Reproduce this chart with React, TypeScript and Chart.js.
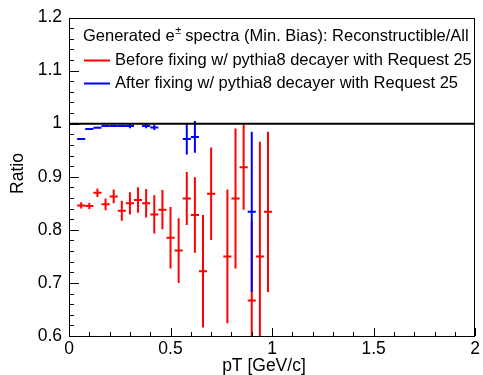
import React, { useEffect, useRef } from 'react';
import { Chart, registerables } from 'chart.js';

Chart.register(...registerables);

// Bin half-width (x error) in GeV/c
const binHalfWidth = 0.02;

// Before fixing (red)
const redX = [0.06, 0.10, 0.14, 0.18, 0.22, 0.26, 0.30, 0.34, 0.38, 0.42, 0.46, 0.50, 0.54, 0.58, 0.62, 0.66, 0.70, 0.78, 0.82, 0.86, 0.90, 0.94, 0.98];
const redY = [0.846, 0.845, 0.870, 0.848, 0.863, 0.836, 0.850, 0.856, 0.850, 0.829, 0.838, 0.785, 0.761, 0.859, 0.828, 0.722, 0.868, 0.750, 0.859, 0.918, 0.667, 0.750, 0.834];
const redErr = [0.006, 0.006, 0.008, 0.011, 0.013, 0.019, 0.021, 0.024, 0.027, 0.036, 0.037, 0.058, 0.061, 0.050, 0.071, 0.106, 0.087, 0.126, 0.132, 0.080, 0.150, 0.216, 0.151];

// After fixing (blue)
const blueX = [0.06, 0.10, 0.14, 0.18, 0.22, 0.26, 0.30, 0.38, 0.42, 0.58, 0.62, 0.90];
const blueY = [0.971, 0.990, 0.9925, 0.9955, 0.9955, 0.9955, 0.9955, 0.9955, 0.993, 0.971, 0.975, 0.834];
const blueErr = [0.001, 0.001, 0.002, 0.002, 0.002, 0.002, 0.004, 0.004, 0.005, 0.029, 0.030, 0.151];

// Reference line at ratio = 1
const refX = [0, 2];
const refY = [1, 1];

const legendHeader = ['Generated e', '\u00B1', ' spectra (Min. Bias): Reconstructible/All'];
const redLabel = 'Before fixing w/ pythia8 decayer with Request 25';
const blueLabel = 'After fixing w/ pythia8 decayer with Request 25';
const xTitle = 'pT [GeV/c]';
const yTitle = 'Ratio';

const FONT = '"Liberation Sans", Arial, Helvetica, sans-serif';

export default function App() {
  const ref = useRef<HTMLCanvasElement>(null);

  useEffect(() => {
    if (!ref.current) return;

    const errorBars = {
      id: 'errorBars',
      beforeDatasetsDraw(chart: any) {
        const { ctx, chartArea: a, scales } = chart;
        const xs = scales.x, ys = scales.y;
        ctx.save();
        ctx.beginPath();
        ctx.rect(a.left, a.top, a.right - a.left, a.bottom - a.top);
        ctx.clip();
        chart.data.datasets.forEach((ds: any) => {
          if (!ds.yErr) return;
          ctx.strokeStyle = ds.borderColor;
          ctx.lineWidth = 2;
          ds.data.forEach((p: any, i: number) => {
            const px = xs.getPixelForValue(p.x);
            const py = ys.getPixelForValue(p.y);
            const x0 = xs.getPixelForValue(p.x - ds.xErr);
            const x1 = xs.getPixelForValue(p.x + ds.xErr);
            const y0 = ys.getPixelForValue(p.y - ds.yErr[i]);
            const y1 = ys.getPixelForValue(p.y + ds.yErr[i]);
            ctx.beginPath();
            ctx.moveTo(x0, py);
            ctx.lineTo(x1, py);
            ctx.moveTo(px, y0);
            ctx.lineTo(px, y1);
            ctx.stroke();
          });
        });
        ctx.restore();
      },
    };

    const frame = {
      id: 'frame',
      afterDraw(chart: any) {
        const { ctx, chartArea: a, scales } = chart;
        const xs = scales.x, ys = scales.y;
        ctx.save();
        ctx.strokeStyle = '#000';
        ctx.lineWidth = 1;
        ctx.strokeRect(Math.round(a.left) + 0.5, Math.round(a.top) + 0.5, Math.round(a.right - a.left) - 1, Math.round(a.bottom - a.top) - 1);
        ctx.beginPath();
        // y ticks: minor every 0.02, major every 0.1
        const ny = Math.round((ys.max - ys.min) / 0.02);
        for (let k = 0; k <= ny; k++) {
          const v = ys.min + k * 0.02;
          const py = Math.round(ys.getPixelForValue(v)) + 0.5;
          const len = k % 5 === 0 ? 10 : 5;
          ctx.moveTo(a.left, py);
          ctx.lineTo(a.left + len, py);
        }
        // x ticks: minor every 0.1, major every 0.5
        const nx = Math.round((xs.max - xs.min) / 0.1);
        for (let k = 0; k <= nx; k++) {
          const v = xs.min + k * 0.1;
          const px = Math.round(xs.getPixelForValue(v)) + 0.5;
          const len = k % 5 === 0 ? 8 : 4;
          ctx.moveTo(px, a.bottom);
          ctx.lineTo(px, a.bottom - len);
        }
        ctx.stroke();

        // axis titles
        ctx.fillStyle = '#000';
        ctx.font = `17.5px ${FONT}`;
        ctx.textAlign = 'center';
        ctx.textBaseline = 'middle';
        ctx.fillText(xTitle, a.left + (a.right - a.left) * 0.48, a.bottom + 30);
        ctx.save();
        ctx.translate(18, a.top + (a.bottom - a.top) * 0.49);
        ctx.rotate(-Math.PI / 2);
        ctx.fillText(yTitle, 0, 0);
        ctx.restore();

        // legend
        ctx.textAlign = 'left';
        ctx.textBaseline = 'middle';
        ctx.font = `16.5px ${FONT}`;
        let hx = a.left + 14;
        const hy = a.top + 19;
        ctx.fillText(legendHeader[0], hx, hy);
        hx += ctx.measureText(legendHeader[0]).width;
        ctx.font = `11px ${FONT}`;
        ctx.fillText(legendHeader[1], hx + 0.5, hy - 6);
        hx += ctx.measureText(legendHeader[1]).width;
        ctx.font = `16.5px ${FONT}`;
        ctx.fillText(legendHeader[2], hx, hy);

        const rows = [
          { label: redLabel, color: chart.data.datasets[0].borderColor, y: a.top + 43 },
          { label: blueLabel, color: chart.data.datasets[1].borderColor, y: a.top + 66 },
        ];
        rows.forEach((r) => {
          ctx.strokeStyle = r.color;
          ctx.lineWidth = 2;
          ctx.beginPath();
          ctx.moveTo(a.left + 15, r.y);
          ctx.lineTo(a.left + 41, r.y);
          ctx.stroke();
          ctx.fillStyle = '#000';
          ctx.fillText(r.label, a.left + 46, r.y);
        });
        ctx.restore();
      },
    };

    const tickFont = { family: FONT, size: 17.5 };
    const fmt = (v: any) => String(Number(Number(v).toFixed(2)));

    const chart = new Chart(ref.current, {
      type: 'scatter',
      data: {
        datasets: [
          {
            label: redLabel,
            data: redX.map((x, i) => ({ x, y: redY[i] })),
            borderColor: '#ff0000',
            backgroundColor: '#ff0000',
            pointRadius: 0,
            showLine: false,
            yErr: redErr,
            xErr: binHalfWidth,
          } as any,
          {
            label: blueLabel,
            data: blueX.map((x, i) => ({ x, y: blueY[i] })),
            borderColor: '#0000ff',
            backgroundColor: '#0000ff',
            pointRadius: 0,
            showLine: false,
            yErr: blueErr,
            xErr: binHalfWidth,
          } as any,
          {
            label: 'ref',
            data: refX.map((x, i) => ({ x, y: refY[i] })),
            borderColor: '#000000',
            borderWidth: 2,
            pointRadius: 0,
            showLine: true,
          } as any,
        ],
      },
      options: {
        responsive: false,
        animation: false,
        devicePixelRatio: 1,
        events: [],
        layout: { padding: { top: 15, right: 6, left: 0, bottom: 0 } },
        plugins: { legend: { display: false }, tooltip: { enabled: false } },
        scales: {
          x: {
            type: 'linear',
            min: 0,
            max: 2,
            grid: { display: false, drawTicks: false },
            border: { display: false },
            ticks: { stepSize: 0.5, font: tickFont, color: '#000', padding: 3, maxRotation: 0, autoSkip: false, callback: fmt },
            afterFit: (s: any) => { s.height = 39; },
          },
          y: {
            type: 'linear',
            min: 0.6,
            max: 1.2,
            grid: { display: false, drawTicks: false },
            border: { display: false },
            ticks: { stepSize: 0.1, font: tickFont, color: '#000', padding: 7, autoSkip: false, callback: fmt },
            afterFit: (s: any) => { s.width = 69; },
          },
        },
      } as any,
      plugins: [errorBars, frame],
    });

    return () => chart.destroy();
  }, []);

  return (
    <div style={{ position: 'absolute', left: 0, top: 0, width: 483, height: 375, background: '#fff' }}>
      <canvas ref={ref} width={483} height={375} />
    </div>
  );
}
